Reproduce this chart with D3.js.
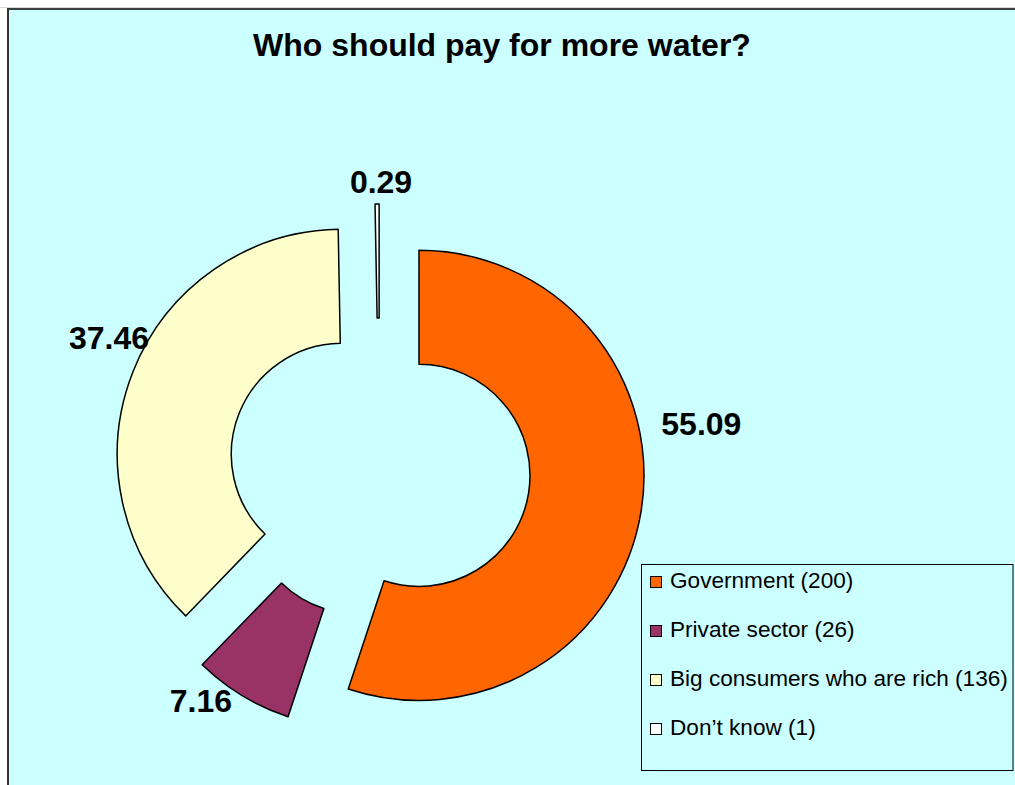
<!DOCTYPE html>
<html>
<head>
<meta charset="utf-8">
<script src="https://cdn.jsdelivr.net/npm/d3@7"></script>
<style>
  html, body { margin: 0; padding: 0; background: #ffffff; }
  svg { display: block; font-family: Arial, "Liberation Sans", sans-serif; }
</style>
</head>
<body>
<svg id="chart" width="1015" height="785"></svg>
<script>
// ---- data ----
const categories = ["Government", "Private sector", "Big consumers who are rich", "Don\u2019t know"];
const counts = [200, 26, 136, 1];
const percentLabels = ["55.09", "7.16", "37.46", "0.29"];
const percents = [55.09, 7.16, 37.46, 0.29];
const colors = ["#FF6600", "#993366", "#FFFFCC", "#FFFFFF"];
const title = "Who should pay for more water?";

// ---- layout ----
const W = 1015, H = 785;
const cx = 379.5, cy = 469, outerR = 225, innerR = 111, explode = 40;
// label placement: [angle in degrees clockwise from top, radius from pie centre]
const labelPlace = [[82, 325], [217.7, 292], [296, 301], [0.3, 288]];

const svg = d3.select("#chart");

// background panel with border
svg.append("rect").attr("x", 8).attr("y", 9).attr("width", W - 8).attr("height", H - 9)
  .attr("fill", "#CCFFFF");
svg.append("line").attr("x1", 7).attr("x2", W).attr("y1", 9).attr("y2", 9)
  .attr("stroke", "#000").attr("stroke-width", 1.5);
svg.append("line").attr("x1", 8).attr("x2", 8).attr("y1", 8).attr("y2", H)
  .attr("stroke", "#333").attr("stroke-width", 2);
svg.append("line").attr("x1", 0).attr("x2", W).attr("y1", 7.5).attr("y2", 7.5)
  .attr("stroke", "#d8d8d8").attr("stroke-width", 1);

// title
svg.append("text").attr("x", 502).attr("y", 56).attr("text-anchor", "middle")
  .attr("font-size", 32).attr("font-weight", "bold").attr("fill", "#000").text(title);

// pie
const pie = d3.pie().sort(null).value(d => d)(percents);
const arc = d3.arc().innerRadius(innerR).outerRadius(outerR);

const g = svg.append("g").attr("transform", `translate(${cx},${cy})`);
g.selectAll("path.slice").data(pie).join("path")
  .attr("class", "slice")
  .attr("transform", d => {
    const a = (d.startAngle + d.endAngle) / 2;
    return `translate(${explode * Math.sin(a)},${-explode * Math.cos(a)})`;
  })
  .attr("d", arc)
  .attr("fill", (d, i) => colors[i])
  .attr("stroke", "#000")
  .attr("stroke-width", 1.5)
  .attr("stroke-linejoin", "round");

// data labels
g.selectAll("text.lbl").data(pie).join("text")
  .attr("class", "lbl")
  .attr("x", (d, i) => labelPlace[i][1] * Math.sin(labelPlace[i][0] * Math.PI / 180))
  .attr("y", (d, i) => -labelPlace[i][1] * Math.cos(labelPlace[i][0] * Math.PI / 180))
  .attr("dy", "0.36em")
  .attr("text-anchor", "middle")
  .attr("font-size", 32).attr("font-weight", "bold").attr("fill", "#000")
  .text((d, i) => percentLabels[i]);

// legend
const lg = svg.append("g");
lg.append("rect").attr("x", 641.5).attr("y", 564.5).attr("width", 371.5).attr("height", 206)
  .attr("fill", "#CCFFFF").attr("stroke", "#000").attr("stroke-width", 1);
const rowY = d3.scalePoint().domain(d3.range(categories.length)).range([588, 735]);
const rows = lg.selectAll("g.row").data(categories).join("g").attr("class", "row")
  .attr("transform", (d, i) => `translate(0,${rowY(i)})`);
rows.append("rect").attr("x", 650.5).attr("y", -11.5).attr("width", 11).attr("height", 11)
  .attr("fill", (d, i) => colors[i]).attr("stroke", "#000").attr("stroke-width", 1);
rows.append("text").attr("x", 670).attr("y", 0)
  .attr("font-size", 22.6).attr("fill", "#000")
  .text((d, i) => `${d} (${counts[i]})`);
</script>
</body>
</html>
